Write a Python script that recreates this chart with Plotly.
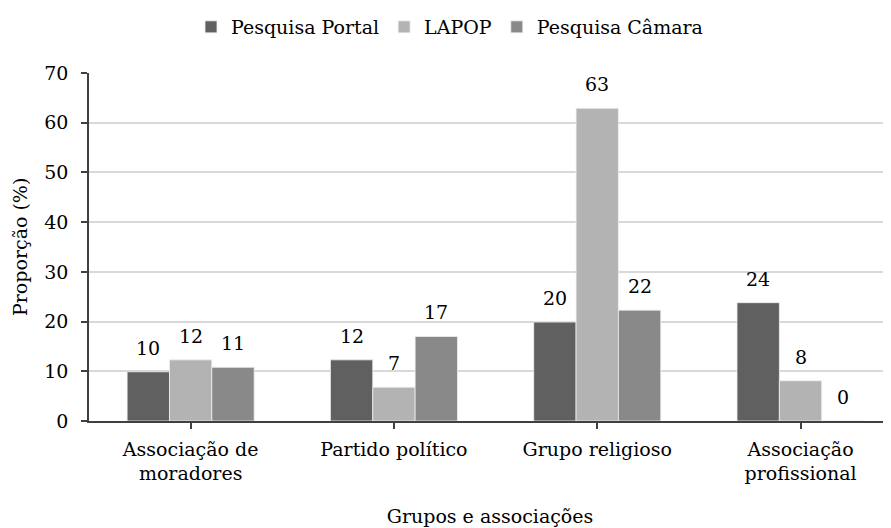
import plotly.graph_objects as go

categories = ["Associação de<br>moradores", "Partido político", "Grupo religioso", "Associação<br>profissional"]
series_names = ["Pesquisa Portal", "LAPOP", "Pesquisa Câmara"]
portal = [9.9, 12.3, 19.9, 23.8]
lapop = [12.3, 6.8, 62.9, 8.1]
camara = [10.8, 17.0, 22.3, 0.0]
labels_portal = ["10", "12", "20", "24"]
labels_lapop = ["12", "7", "63", "8"]
labels_camara = ["11", "17", "22", "0"]
colors = ["#606060", "#b3b3b3", "#898989"]
y_ticks = [0, 10, 20, 30, 40, 50, 60, 70]
y_title = "Proporção (%)"
x_title = "Grupos e associações"

FONT = "DejaVu Serif"
FS = 19

values = [portal, lapop, camara]
labels = [labels_portal, labels_lapop, labels_camara]

fig = go.Figure()
idx = list(range(len(categories)))
for name, vals, col in zip(series_names, values, colors):
    fig.add_trace(go.Bar(
        x=idx, y=vals, name=name,
        marker=dict(color=col, line=dict(color="#f0f0f0", width=0.8)),
    ))

bargap = 0.375
bw = (1 - bargap) / 3
annotations = []
for j, (vals, labs) in enumerate(zip(values, labels)):
    for i, (v, t) in enumerate(zip(vals, labs)):
        annotations.append(dict(
            x=i + (j - 1) * bw, y=v, xref="x", yref="y", text=t,
            showarrow=False, yanchor="middle", yshift=24,
            font=dict(family=FONT, size=FS, color="#000000"),
        ))
# y-axis title placed as rotated text
annotations.append(dict(
    x=0, y=0.5, xref="paper", yref="paper", text=y_title, textangle=-90,
    showarrow=False, xanchor="center", yanchor="middle", xshift=-69,
    font=dict(family=FONT, size=FS, color="#000000"),
))

fig.update_layout(
    width=883, height=520,
    margin=dict(l=81, r=0, t=65, b=107, autoexpand=False),
    paper_bgcolor="white", plot_bgcolor="white",
    barmode="group", bargap=bargap, bargroupgap=0,
    font=dict(family=FONT, size=FS, color="#000000"),
    annotations=annotations,
    legend=dict(
        orientation="h", xref="container", yref="container",
        x=0.5, xanchor="center", y=1.0, yanchor="top",
        font=dict(family=FONT, size=FS, color="#000000"),
        itemwidth=30, bgcolor="rgba(0,0,0,0)", traceorder="normal",
    ),
    showlegend=True,
)

fig.update_xaxes(
    tickmode="array", tickvals=idx, ticktext=categories,
    range=[-0.5, 3.445], automargin=False,
    showline=True, linecolor="#404040", linewidth=1.5,
    ticks="outside", tickcolor="#404040", ticklen=6, tickwidth=1.5,
    tickson="boundaries",
    showgrid=False, zeroline=False,
    tickfont=dict(family=FONT, size=FS, color="#000000"),
    ticklabelstandoff=4,
    title=dict(text=x_title, font=dict(family=FONT, size=FS, color="#000000"), standoff=26),
)
fig.update_yaxes(
    range=[0, 70], tickvals=y_ticks, automargin=False,
    showline=True, linecolor="#404040", linewidth=1.5,
    ticks="outside", tickcolor="#404040", ticklen=6, tickwidth=1.5,
    showgrid=True, gridcolor="#d9d9d9", gridwidth=1.5,
    zeroline=False,
    tickfont=dict(family=FONT, size=FS, color="#000000"),
    ticklabelstandoff=9,
)

fig.write_html("out.html")
